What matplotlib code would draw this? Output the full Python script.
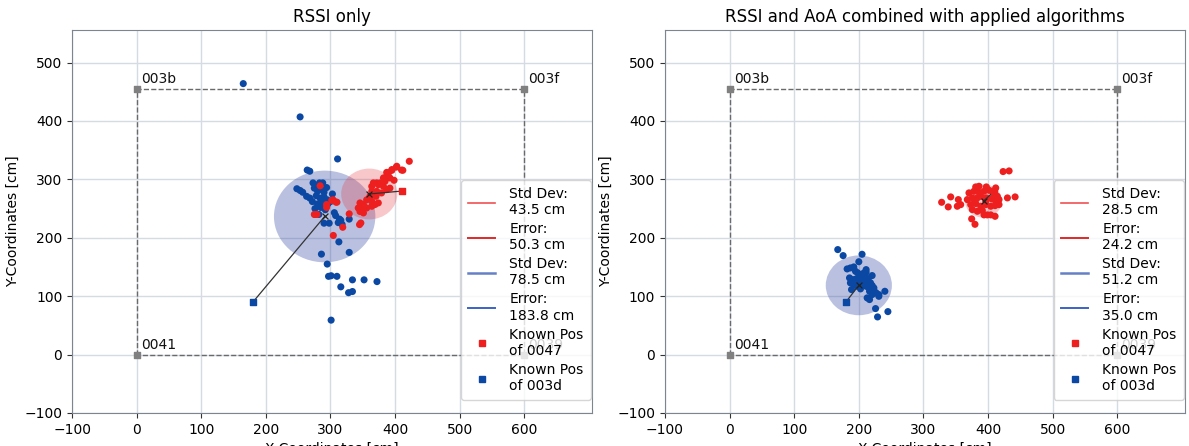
import matplotlib
matplotlib.use("Agg")
import matplotlib.pyplot as plt
from matplotlib.lines import Line2D
from matplotlib.patches import Ellipse

# ---------------- data ----------------
anchor_names = ["003b", "003f", "0041", "0039"]
anchor_x = [0, 600, 0, 600]
anchor_y = [455, 455, 0, 0]

known_0047 = (410, 280)
known_003d = (180, 90)

titles = ["RSSI only", "RSSI and AoA combined with applied algorithms"]

# RSSI only
l_red_x = [422, 402, 410, 395, 387, 402.6, 412, 395, 389.7, 387, 382, 392, 398.4, 384.5, 376.7,
           371.6, 366.4, 363.9, 374, 382, 392, 387, 364, 371.6, 379, 361, 370.5, 356, 364, 374,
           369, 345.7, 351, 343, 348, 356, 364, 345.7, 351, 284, 304, 308.5, 302, 294, 275,
           279, 329, 319, 304.4, 345, 347, 310, 294]
l_red_y = [331, 321, 316, 315.5, 312, 322.5, 315.6, 316.8, 311, 305, 302.5, 302.5, 298.5, 296.8, 294,
           294, 294, 288, 291, 288, 285, 282.5, 279.6, 279.6, 276.8, 271, 271, 265, 262.5, 259.7,
           257, 259.7, 257, 251, 248, 251, 254, 245, 242.6, 289, 265, 261, 264, 252, 240,
           240, 241, 218, 204, 222.6, 225.4, 261, 257]
l_blue_x = [165, 253, 311, 264, 268, 273, 283, 288, 248, 253, 257, 263,
            275, 280, 285, 290, 278, 284, 290, 295, 272, 280, 288, 296, 276, 285, 292, 300, 303, 268,
            282, 294, 276, 282, 290, 298, 306, 308, 312, 316, 318, 314, 329, 313, 286, 329, 295,
            297, 301, 310, 334, 352, 372, 316, 328, 334, 301]
l_blue_y = [464, 407, 335, 316, 314, 294, 294, 294, 284, 281, 278, 271,
            285, 280, 283, 278, 272, 268, 270, 265, 262, 258, 260, 258, 250, 252, 248, 262, 275, 268,
            290, 286, 240, 240, 225, 225, 243, 238, 226, 230, 223, 232, 232, 193, 172, 175, 155,
            134, 135, 134, 128, 128, 125, 116, 106, 108, 59]

# RSSI and AoA combined
r_red_x = [423.3, 432.6, 328.2, 342.2, 338.4, 354, 352.4, 357.7, 430, 441.9, 374.7, 379.8, 393.8,
           398.9, 404.2, 410.9, 380.9, 397.4, 411.9, 370.5, 378.3, 386, 393.8, 401.6, 407.8, 414.4,
           367.9, 375.7, 383.4, 397.4, 405.7, 411.9, 373.2, 380.9, 388.7, 396.4, 404.2, 410.9, 375.7,
           383.4, 391.2, 386, 381.9, 417, 388.7, 396.4, 379.8, 417]
r_red_y = [313.4, 314.5, 260.8, 270, 252.9, 265.4, 254, 256.8, 268.3, 270, 232.4, 223.1, 239.2,
           239.2, 239.2, 236.8, 287.1, 287.1, 285.4, 276.9, 279.6, 277.9, 279.6, 281.3, 276.9, 271,
           265.4, 268.3, 268.3, 268.3, 266.6, 262.5, 256.8, 258.6, 254, 256.8, 254, 255.1, 248.3,
           245.4, 246.6, 288.2, 283.7, 265.4, 271, 262.5, 262.5, 256.8]
r_blue_x = [167.4, 175.7, 205, 200, 181.9, 187, 192.2, 198.4, 202.6, 207.8, 211.3, 220.6, 185.6,
            190.7, 195.8, 200, 205, 209.3, 212.9, 187, 192.2, 207.8, 211.3, 215.5, 220.6, 188.7,
            202.6, 216.6, 223.3, 226.8, 231, 212.9, 216.6, 231, 240.3, 225.9, 245, 229, 207.8,
            210.4, 214.4, 204.1, 197.4, 218.1, 223.3, 220.6, 211.3, 194.9]
r_blue_y = [179.8, 169.5, 171.8, 159, 146.7, 148.4, 150.1, 139.8, 137, 139.8, 141, 135.3, 131.3,
            128.4, 129.6, 125.5, 128.4, 125.5, 123.8, 122.8, 119.9, 119.9, 117, 114.2, 118.2, 111.3,
            112.5, 108.4, 109.6, 105.7, 102.7, 97.1, 94.2, 99.8, 108.4, 78.8, 73.6, 64.5, 131.3,
            134.1, 128.4, 122.8, 117, 122.8, 114.2, 102.7, 145.5, 142.6]

# centres of estimates, std dev and error per panel
red_center = [(360, 275), (393, 263)]
blue_center = [(291, 236.5), (200, 118.6)]
red_std = [43.5, 28.5]
red_err = [50.3, 24.2]
blue_std = [78.5, 51.2]
blue_err = [183.8, 35.0]

panels = [
    (l_red_x, l_red_y, l_blue_x, l_blue_y),
    (r_red_x, r_red_y, r_blue_x, r_blue_y),
]

# ---------------- style ----------------
RED = "#ee1f1f"
BLUE = "#0b48a3"
GRAY = "#808080"

plt.rcParams["font.family"] = ["DejaVu Sans"]
plt.rcParams["font.size"] = 10

fig = plt.figure(figsize=(11.89, 4.46), dpi=100)
axes = [fig.add_axes([0.0606, 0.074, 0.4374, 0.859]),
        fig.add_axes([0.5593, 0.074, 0.4374, 0.859])]

for i, ax in enumerate(axes):
    rx, ry, bx, by = panels[i]
    ax.set_xlim(-100, 705)
    ax.set_ylim(-100, 556)
    ax.grid(True, color="#d5dbe2", linewidth=1.0, zorder=0)
    ax.set_axisbelow(True)
    for s in ax.spines.values():
        s.set_color("#7d8590")
    ax.tick_params(colors="#333333", labelcolor="black", labelsize=10)
    ax.set_xticks([-100, 0, 100, 200, 300, 400, 500, 600])
    ax.set_yticks([-100, 0, 100, 200, 300, 400, 500])

    # room outline
    ax.plot([anchor_x[2], anchor_x[0], anchor_x[1], anchor_x[3], anchor_x[2]],
            [anchor_y[2], anchor_y[0], anchor_y[1], anchor_y[3], anchor_y[2]],
            ls="--", color="#6a6a6a", lw=1.0, zorder=2)
    ax.scatter(anchor_x, anchor_y, marker="s", s=14, color=GRAY, zorder=3)
    for n, x, y in zip(anchor_names, anchor_x, anchor_y):
        ax.annotate(n, (x, y), xytext=(3, 2), textcoords="offset points",
                    ha="left", va="bottom", fontsize=10, color="#111111", zorder=3)

    # std circles
    ax.add_patch(Ellipse(blue_center[i], 2 * blue_std[i], 2 * blue_std[i],
                         facecolor="#2f44a3", alpha=0.33, edgecolor="none", zorder=3))
    ax.add_patch(Ellipse(red_center[i], 2 * red_std[i], 2 * red_std[i],
                         facecolor="#e8303a", alpha=0.27, edgecolor="none", zorder=3))

    ax.scatter(bx, by, s=26, color=BLUE, edgecolors="none", zorder=4)
    ax.scatter(rx, ry, s=26, color=RED, edgecolors="none", zorder=4)

    # error lines
    ax.plot([blue_center[i][0], known_003d[0]], [blue_center[i][1], known_003d[1]],
            color="#333333", lw=0.9, zorder=5)
    ax.plot([red_center[i][0], known_0047[0]], [red_center[i][1], known_0047[1]],
            color="#333333", lw=0.9, zorder=5)
    ax.scatter([blue_center[i][0], red_center[i][0]], [blue_center[i][1], red_center[i][1]],
               marker="x", s=18, color="#222222", linewidths=0.9, zorder=6)
    ax.scatter([known_003d[0]], [known_003d[1]], marker="s", s=24, color=BLUE, zorder=6)
    ax.scatter([known_0047[0]], [known_0047[1]], marker="s", s=24, color=RED, zorder=6)

    handles = [
        Line2D([], [], color="#f05050", lw=1.2),
        Line2D([], [], color="#e02828", lw=1.4),
        Line2D([], [], color="#6680c8", lw=1.8),
        Line2D([], [], color="#3d62c4", lw=1.4),
        Line2D([], [], ls="none", marker="s", markersize=4, color=RED),
        Line2D([], [], ls="none", marker="s", markersize=4, color=BLUE),
    ]
    labels = [f"Std Dev:\n{red_std[i]:.1f} cm", f"Error:\n{red_err[i]:.1f} cm",
              f"Std Dev:\n{blue_std[i]:.1f} cm", f"Error:\n{blue_err[i]:.1f} cm",
              "Known Pos\nof 0047", "Known Pos\nof 003d"]
    ax.legend(handles, labels, loc="lower right", bbox_to_anchor=(0.997, 0.034),
              borderaxespad=0.0, fontsize=10, handlelength=2.0, handletextpad=1.0,
              labelspacing=0.36, borderpad=0.5, framealpha=0.8)

    ax.set_title(titles[i], fontsize=12)
    ax.set_xlabel("X-Coordinates [cm]", fontsize=10)
    ax.set_ylabel("Y-Coordinates [cm]", fontsize=10, labelpad=3)

fig.savefig("out.png", dpi=100)
